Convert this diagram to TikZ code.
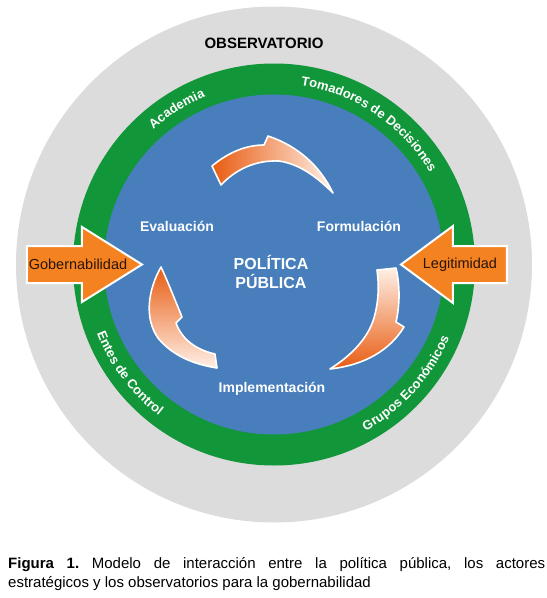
\documentclass[tikz,border=0pt]{standalone}
\usepackage{fontspec}
\setmainfont{Liberation Sans}
\usetikzlibrary{decorations.text}
\definecolor{ringgray}{RGB}{220,220,220}
\definecolor{ringgreen}{RGB}{18,150,58}
\definecolor{coreblue}{RGB}{72,126,188}
\definecolor{arrorange}{RGB}{245,130,32}
\definecolor{deeporange}{RGB}{232,92,18}
\definecolor{midorange}{RGB}{240,125,55}
\definecolor{peach}{RGB}{255,240,230}
\definecolor{darktext}{RGB}{40,20,10}
\newcommand\ringfont{\fontsize{13}{13}\selectfont\bfseries}
\begin{document}
\begin{tikzpicture}[x=1pt,y=1pt,
  ringlabel/.style={decorate, decoration={text along path, text align=center, text color=white, text={|\ringfont|#1}}},
  stage/.style={text=white, font=\fontsize{14}{16}\selectfont\bfseries, inner sep=0pt},
  core/.style={text=white, font=\fontsize{16}{19}\selectfont\bfseries, align=center, inner sep=0pt},
  titletext/.style={text=black, font=\fontsize{15}{18}\selectfont\bfseries, inner sep=0pt},
  sidearrow/.style={fill=arrorange, draw=white, line width=2pt, line join=miter},
  sidetext/.style={text=darktext, font=\fontsize{14.5}{17}\selectfont, inner sep=0pt},
  cyclearrow/.style={draw=white, line width=1.6pt, line join=round}]
\useasboundingbox (-274,-333.5) rectangle (273,264.5);
% rings
\fill[ringgray] (0,0) circle (258);
\fill[ringgreen] (0,0) circle (201);
\fill[coreblue] (0,0) circle (170);
% ring labels
\path[ringlabel={Academia}] (0,0) ++(162:181) arc[start angle=162, end angle=82, radius=181];
\path[ringlabel={Tomadores de Decisiones}] (0,0) ++(104:181) arc[start angle=104, end angle=8, radius=181];
\path[ringlabel={Entes de Control}] (0,0) ++(177:190) arc[start angle=177, end angle=257, radius=190];
\path[ringlabel={Grupos Económicos}] (0,0) ++(273:190) arc[start angle=273, end angle=363, radius=190];
% title
\node[titletext] (obs) at (-10,221.5) {OBSERVATORIO};
% pixel-coordinate scope
\begin{scope}[shift={(-274,264.5)}, yscale=-1]
  % cycle arrows
  \path[cyclearrow, left color=deeporange, middle color=midorange, right color=peach]
    (212,166) .. controls (230,151) and (248,145) .. (264,145) -- (268,136)
    .. controls (298,146) and (320,166) .. (333,193)
    .. controls (318,178) and (300,164) .. (279,161)
    .. controls (256,160) and (236,169) .. (221,185) -- cycle;
  \path[cyclearrow, top color=peach, middle color=midorange, bottom color=deeporange]
    (396,268) .. controls (400,285) and (400,305) .. (396,322) -- (404,327)
    .. controls (390,350) and (365,365) .. (330,369)
    .. controls (352,355) and (368,338) .. (374,318)
    .. controls (379,300) and (379,285) .. (377,270) -- cycle;
  \path[cyclearrow, top color=deeporange, middle color=midorange, bottom color=peach]
    (161,267) .. controls (148,290) and (144,318) .. (158,338)
    .. controls (172,355) and (192,364) .. (217,368) -- (215,354)
    .. controls (197,350) and (182,340) .. (176,323) -- (182,317)
    .. controls (175,300) and (168,282) .. (161,267) -- cycle;
  % side arrows
  \path[sidearrow] (27,246) -- (82,246) -- (82,227) -- (142,264.5) -- (82,302) -- (82,283) -- (27,283) -- cycle;
  \path[sidearrow] (507,246) -- (453,246) -- (453,226) -- (401,264.5) -- (453,303) -- (453,283) -- (507,283) -- cycle;
  \node[sidetext] (gob) at (78,264.5) {Gobernabilidad};
  \node[sidetext] (leg) at (460,264.5) {Legitimidad};
  % stage labels
  \node[stage] (eval) at (177,226) {Evaluación};
  \node[stage] (form) at (359,226) {Formulación};
  \node[stage] (impl) at (272,389) {Implementación};
  \node[core] (pp) at (271,271.5) {POLÍTICA\\PÚBLICA};
\end{scope}
% caption
\node[anchor=base west, inner sep=0pt, font=\fontsize{15}{19}\selectfont] (cap) at (-266,-303.5)
  {\parbox[t]{537pt}{\frenchspacing\hyphenpenalty=10000\parindent=0pt\textbf{Figura 1.} Modelo de interacción entre la política pública, los actores\linebreak estratégicos y los observatorios para la gobernabilidad}};
\end{tikzpicture}
\end{document}
